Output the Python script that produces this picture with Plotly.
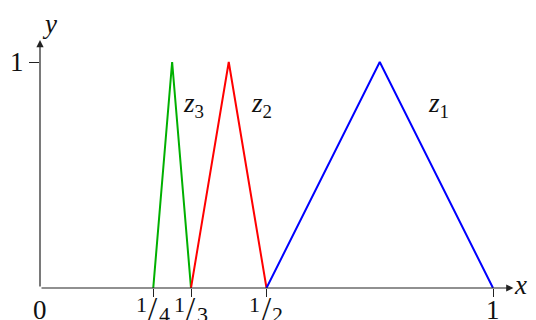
import plotly.graph_objects as go

# triangle membership functions
z1_x = [0.5, 0.75, 1.0]
z1_y = [0, 1, 0]
z2_x = [1/3, 5/12, 0.5]
z2_y = [0, 1, 0]
z3_x = [0.25, 7/24, 1/3]
z3_y = [0, 1, 0]

xtick_vals = [0.25, 1/3, 0.5, 1.0]
# fraction tick labels (numerator / denominator)
frac_vals = [0.25, 1/3, 0.5]
frac_num = ["1", "1", "1"]
frac_den = ["4", "3", "2"]
# plain tick labels
plain_vals = [0, 1.0]
plain_text = ["0", "1"]

FONT = "Liberation Serif, serif"
INK = "#111111"

fig = go.Figure()
fig.add_trace(go.Scatter(x=z3_x, y=z3_y, mode="lines", line=dict(color="#00b000", width=2)))
fig.add_trace(go.Scatter(x=z2_x, y=z2_y, mode="lines", line=dict(color="#ff0000", width=2)))
fig.add_trace(go.Scatter(x=z1_x, y=z1_y, mode="lines", line=dict(color="#0000ff", width=2)))

# axes with arrow heads
fig.add_annotation(x=1.045, y=0, ax=0, ay=0, axref="x", ayref="y", xref="x", yref="y",
                   text="", showarrow=True, arrowhead=2, arrowsize=1.2, arrowwidth=1.2,
                   arrowcolor="#222")
fig.add_annotation(x=0, y=1.097, ax=0, ay=0, axref="x", ayref="y", xref="x", yref="y",
                   text="", showarrow=True, arrowhead=2, arrowsize=1.2, arrowwidth=1.2,
                   arrowcolor="#222")

lab = dict(family=FONT, size=27, color=INK)
small = dict(family=FONT, size=22, color=INK)
slash = dict(family=FONT, size=33, color=INK)
fig.add_annotation(x=1.01875, y=0, xref="paper", yref="paper", text="<i>x</i>",
                   showarrow=False, font=lab, yanchor="middle", yshift=3)
fig.add_annotation(x=0, y=0.985, xref="paper", yref="paper", text="<i>y</i>",
                   showarrow=False, font=lab, yanchor="middle")

# x tick labels drawn as text under the axis
for v, t in zip(plain_vals, plain_text):
    fig.add_annotation(x=v, y=-0.082, xref="x", yref="paper", text=t,
                       showarrow=False, yanchor="middle", font=lab)
for v, n, d in zip(frac_vals, frac_num, frac_den):
    fig.add_annotation(x=v, y=-0.060, xref="x", yref="paper", text=n, xshift=-12,
                       showarrow=False, yanchor="middle", font=small)
    fig.add_annotation(x=v, y=-0.079, xref="x", yref="paper", text="/",
                       showarrow=False, yanchor="middle", font=slash)
    fig.add_annotation(x=v, y=-0.100, xref="x", yref="paper", text=d, xshift=11,
                       showarrow=False, yanchor="middle", font=small)

fig.add_annotation(x=0.338, y=0.81, text="<i>z</i><sub>3</sub>", showarrow=False, font=lab)
fig.add_annotation(x=0.49, y=0.81, text="<i>z</i><sub>2</sub>", showarrow=False, font=lab)
fig.add_annotation(x=0.879, y=0.81, text="<i>z</i><sub>1</sub>", showarrow=False, font=lab)

fig.update_xaxes(range=[0, 480/453], tickvals=xtick_vals, showticklabels=False,
                 ticks="outside", ticklen=8, tickcolor="#222", tickwidth=1.2,
                 showgrid=False, zeroline=False, showline=False, automargin=False)
fig.update_yaxes(range=[0, 268/226], tickvals=[1], ticktext=["1"],
                 ticks="outside", ticklen=10, tickcolor="#222", tickwidth=1.2,
                 showgrid=False, zeroline=False, showline=False, automargin=False,
                 tickfont=dict(family=FONT, size=27, color=INK))

# page body has an 8px margin, so the figure is sized to fit inside it
fig.update_layout(
    width=528, height=312,
    margin=dict(l=32, r=16, t=12, b=32),
    plot_bgcolor="white", paper_bgcolor="white",
    showlegend=False,
    font=dict(family=FONT, color=INK),
)

fig.write_html("out.html")
